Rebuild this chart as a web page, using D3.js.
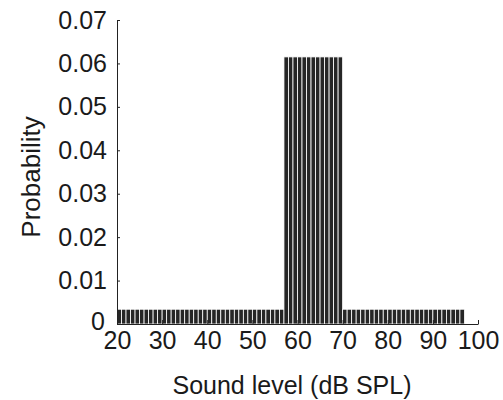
<!DOCTYPE html>
<html>
<head>
<meta charset="utf-8">
<script src="https://cdn.jsdelivr.net/npm/d3@7"></script>
<style>
  body { margin: 0; background: #fff; }
  svg text { font-family: "Liberation Sans", Arial, Helvetica, sans-serif; fill: #1a1a1a; }
  .axis path, .axis line { stroke: #222; }
</style>
</head>
<body>
<div id="chart"></div>
<script>
// histogram bins (lower edge, dB SPL) and their probabilities
const levels = [20, 21, 22, 23, 24, 25, 26, 27, 28, 29,
                30, 31, 32, 33, 34, 35, 36, 37, 38, 39,
                40, 41, 42, 43, 44, 45, 46, 47, 48, 49,
                50, 51, 52, 53, 54, 55, 56, 57, 58, 59,
                60, 61, 62, 63, 64, 65, 66, 67, 68, 69,
                70, 71, 72, 73, 74, 75, 76, 77, 78, 79,
                80, 81, 82, 83, 84, 85, 86, 87, 88, 89,
                90, 91, 92, 93, 94, 95, 96];
const probs = [0.0034, 0.0034, 0.0034, 0.0034, 0.0034, 0.0034, 0.0034, 0.0034, 0.0034, 0.0034,
               0.0034, 0.0034, 0.0034, 0.0034, 0.0034, 0.0034, 0.0034, 0.0034, 0.0034, 0.0034,
               0.0034, 0.0034, 0.0034, 0.0034, 0.0034, 0.0034, 0.0034, 0.0034, 0.0034, 0.0034,
               0.0034, 0.0034, 0.0034, 0.0034, 0.0034, 0.0034, 0.0034, 0.0615, 0.0615, 0.0615,
               0.0615, 0.0615, 0.0615, 0.0615, 0.0615, 0.0615, 0.0615, 0.0615, 0.0615, 0.0615,
               0.0034, 0.0034, 0.0034, 0.0034, 0.0034, 0.0034, 0.0034, 0.0034, 0.0034, 0.0034,
               0.0034, 0.0034, 0.0034, 0.0034, 0.0034, 0.0034, 0.0034, 0.0034, 0.0034, 0.0034,
               0.0034, 0.0034, 0.0034, 0.0034, 0.0034, 0.0034, 0.0034];
const xTicks = [20, 30, 40, 50, 60, 70, 80, 90, 100];
const yTicks = [0, 0.01, 0.02, 0.03, 0.04, 0.05, 0.06, 0.07];

var bins = levels.map((l, i) => ({ level: l, p: probs[i] }));

var fullWidth = 503, fullHeight = 400;
var margin = { top: 20, right: 25, bottom: 76, left: 117 };
var width = fullWidth - margin.left - margin.right;   // 361
var height = fullHeight - margin.top - margin.bottom; // 304

var xScale = d3.scaleLinear().domain([20, 100]).range([0, width]);
var yScale = d3.scaleLinear().domain([0, 0.07]).range([height, 0]);

var svg = d3.select('#chart')
  .append('svg')
  .attr('width', fullWidth)
  .attr('height', fullHeight)
  .append('g')
  .attr('transform', `translate(${margin.left},${margin.top})`);

// bars
svg.append('g')
  .attr('class', 'bars')
  .selectAll('rect')
  .data(bins)
  .enter()
  .append('rect')
  .attr('x', d => xScale(d.level))
  .attr('y', d => yScale(d.p))
  .attr('width', d => xScale(d.level + 1) - xScale(d.level))
  .attr('height', d => height - yScale(d.p))
  .attr('fill', '#262626')
  .attr('stroke', '#fff')
  .attr('stroke-width', 0.8);

var yAxis = d3.axisLeft(yScale)
  .tickValues(yTicks)
  .tickFormat(d => d === 0 ? '0' : d3.format('.2f')(d))
  .tickSizeInner(-3)
  .tickSizeOuter(0)
  .tickPadding(10);

var xAxis = d3.axisBottom(xScale)
  .tickValues(xTicks)
  .tickSizeInner(-4)
  .tickSizeOuter(0)
  .tickPadding(7);

var yg = svg.append('g')
  .attr('class', 'axis y')
  .call(yAxis);
yg.selectAll('text').style('font-size', '25px');
// nudge the "0" so it doesn't collide with the "20" below it
yg.selectAll('.tick text').filter(d => d === 0)
  .attr('dy', '0.22em')
  .attr('x', -12);

svg.append('g')
  .attr('class', 'axis x')
  .attr('transform', `translate(0,${height})`)
  .call(xAxis)
  .selectAll('text')
  .style('font-size', '25px');

svg.append('text')
  .attr('x', 175)
  .attr('y', height + 70)
  .attr('text-anchor', 'middle')
  .style('font-size', '25px')
  .text('Sound level (dB SPL)');

svg.append('text')
  .attr('transform', `translate(${-77},${height / 2 + 5}) rotate(-90)`)
  .attr('text-anchor', 'middle')
  .style('font-size', '26px')
  .text('Probability');
</script>
</body>
</html>
